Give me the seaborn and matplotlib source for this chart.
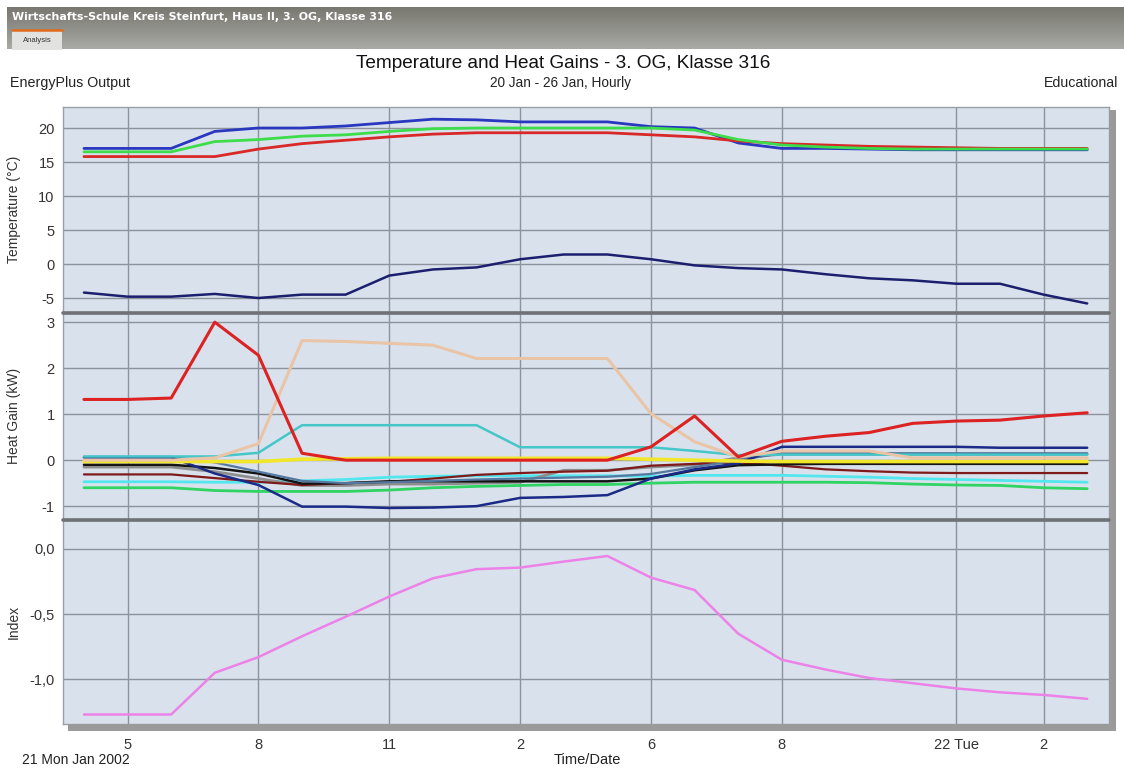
import numpy as np
import pandas as pd
import matplotlib
matplotlib.use("Agg")
import matplotlib.pyplot as plt
import seaborn as sns
from matplotlib.patches import Rectangle
from matplotlib.lines import Line2D

# ---------------- data ----------------
hours = list(range(24))  # hourly steps, 04:00 Mon .. 03:00 Tue
tick_pos = [1, 4, 7, 10, 13, 16, 20, 22]
tick_labels = ["5", "8", "11", "2", "6", "8", "22 Tue", "2"]

temp_zone_blue = [17.0, 17.0, 17.0, 19.5, 20.0, 20.0, 20.3, 20.8, 21.3, 21.2, 20.9, 20.9,
                  20.9, 20.2, 20.0, 17.8, 17.0, 17.0, 16.9, 16.8, 16.8, 16.8, 16.8, 16.8]
temp_zone_green = [16.5, 16.5, 16.5, 18.0, 18.3, 18.8, 19.0, 19.5, 19.9, 20.0, 20.0, 20.0,
                   20.0, 20.0, 19.7, 18.3, 17.5, 17.2, 17.0, 16.9, 16.9, 16.9, 16.9, 16.9]
temp_zone_red = [15.8, 15.8, 15.8, 15.8, 16.9, 17.7, 18.2, 18.7, 19.1, 19.3, 19.3, 19.3,
                 19.3, 19.0, 18.7, 18.1, 17.7, 17.5, 17.3, 17.2, 17.1, 17.0, 17.0, 17.0]
temp_outdoor = [-4.2, -4.8, -4.8, -4.4, -5.0, -4.5, -4.5, -1.7, -0.8, -0.5, 0.7, 1.4,
                1.4, 0.7, -0.2, -0.6, -0.8, -1.5, -2.1, -2.4, -2.9, -2.9, -4.5, -5.8]

gain_red = [1.32, 1.32, 1.35, 3.0, 2.28, 0.15, 0.0, 0.0, 0.0, 0.0, 0.0, 0.0,
            0.0, 0.29, 0.96, 0.07, 0.41, 0.52, 0.60, 0.80, 0.85, 0.87, 0.96, 1.03]
gain_tan = [0.0, 0.0, 0.0, 0.05, 0.36, 2.6, 2.58, 2.54, 2.5, 2.21, 2.21, 2.21,
            2.21, 1.01, 0.40, 0.07, 0.20, 0.20, 0.20, 0.05, 0.05, 0.05, 0.05, 0.05]
gain_teal = [0.08, 0.08, 0.08, 0.08, 0.16, 0.76, 0.76, 0.76, 0.76, 0.76, 0.28, 0.28,
             0.28, 0.28, 0.20, 0.11, 0.12, 0.12, 0.12, 0.12, 0.12, 0.12, 0.12, 0.12]
gain_yellow = [-0.03, -0.03, -0.03, -0.03, -0.03, 0.02, 0.03, 0.04, 0.04, 0.04, 0.04, 0.04,
               0.04, 0.02, 0.0, -0.02, -0.03, -0.03, -0.03, -0.03, -0.03, -0.03, -0.03, -0.03]
gain_steel = [0.07, 0.07, 0.07, -0.05, -0.25, -0.45, -0.50, -0.48, -0.45, -0.42, -0.40, -0.38,
              -0.36, -0.30, -0.15, 0.0, 0.15, 0.15, 0.15, 0.15, 0.15, 0.15, 0.15, 0.15]
gain_navy = [0.06, 0.06, 0.06, -0.29, -0.54, -1.01, -1.01, -1.04, -1.03, -1.0, -0.82, -0.80,
             -0.76, -0.40, -0.20, -0.07, 0.29, 0.29, 0.29, 0.29, 0.29, 0.27, 0.27, 0.27]
gain_black = [-0.10, -0.10, -0.10, -0.17, -0.29, -0.51, -0.50, -0.46, -0.46, -0.46, -0.46, -0.46,
              -0.46, -0.40, -0.22, -0.11, -0.09, -0.08, -0.08, -0.08, -0.08, -0.08, -0.08, -0.08]
gain_maroon = [-0.31, -0.31, -0.31, -0.39, -0.47, -0.54, -0.50, -0.47, -0.40, -0.32, -0.28, -0.25,
               -0.23, -0.12, -0.08, -0.05, -0.12, -0.20, -0.24, -0.27, -0.28, -0.28, -0.28, -0.28]
gain_gray = [-0.15, -0.15, -0.15, -0.25, -0.40, -0.55, -0.55, -0.52, -0.52, -0.50, -0.48, -0.22,
             -0.22, -0.15, -0.10, 0.05, 0.13, 0.13, 0.13, 0.13, 0.13, 0.13, 0.13, 0.13]
gain_aqua = [-0.47, -0.47, -0.47, -0.48, -0.48, -0.45, -0.42, -0.37, -0.35, -0.34, -0.34, -0.34,
             -0.34, -0.35, -0.33, -0.33, -0.33, -0.35, -0.37, -0.40, -0.42, -0.44, -0.46, -0.48]
gain_green = [-0.60, -0.60, -0.60, -0.66, -0.68, -0.68, -0.68, -0.65, -0.60, -0.57, -0.55, -0.53,
              -0.53, -0.50, -0.48, -0.48, -0.48, -0.48, -0.49, -0.52, -0.54, -0.55, -0.60, -0.62]

index_pink = [-1.27, -1.27, -1.27, -0.95, -0.83, -0.67, -0.52, -0.365, -0.225, -0.155, -0.143, -0.097,
              -0.054, -0.22, -0.315, -0.65, -0.85, -0.925, -0.99, -1.03, -1.07, -1.10, -1.12, -1.15]

# ---------------- styling ----------------
sns.set_theme(style="white")
plt.rcParams['font.family'] = ['Liberation Sans', 'DejaVu Sans']

W, H = 1124, 769
fig = plt.figure(figsize=(W / 100, H / 100), dpi=100)
fig.patch.set_facecolor("white")

def fx(px):
    return px / W

def fy(py):
    return 1 - py / H

BG = "#d9e2ec"
GRID = "#8c939c"
left_px, right_px = 63, 1109
panels_px = [(107, 312.5), (312.5, 519.5), (519.5, 724)]
axes = []
for (t, b) in panels_px:
    ax = fig.add_axes([fx(left_px), fy(b), fx(right_px - left_px), (b - t) / H])
    ax.set_facecolor(BG)
    axes.append(ax)

# shadow
fig.patches.append(Rectangle((fx(68), fy(731)), fx(1116 - 68), 7 / H, transform=fig.transFigure,
                             facecolor="#9a9a9a", edgecolor="none", zorder=0))
fig.patches.append(Rectangle((fx(1109), fy(731)), fx(7), (731 - 110) / H, transform=fig.transFigure,
                             facecolor="#9a9a9a", edgecolor="none", zorder=0))

xlim = (-0.48, 23.5)

def style_axis(ax, ylim, yticks, ylabels, ylabel):
    ax.set_xlim(*xlim)
    ax.set_ylim(*ylim)
    ax.set_yticks(yticks)
    ax.set_yticklabels(ylabels, fontsize=10.5, color="#333333")
    ax.set_xticks(tick_pos)
    ax.grid(True, color=GRID, lw=1.0)
    ax.set_axisbelow(True)
    for s in ax.spines.values():
        s.set_color("#9a9fa6")
        s.set_linewidth(1)
    ax.tick_params(axis="y", length=0, pad=6)
    ax.set_ylabel(ylabel, fontsize=10, color="#333333", labelpad=8)
    ax.set_xlabel("")

# ---------- temperature panel ----------
ax0 = axes[0]
temp_series = [
    (temp_zone_blue, "#2a38c0", 2.0),
    (temp_zone_red, "#d82828", 2.0),
    (temp_zone_green, "#3ddc4a", 2.0),
    (temp_outdoor, "#1c1f6e", 1.8),
]
for vals, col, lw in temp_series:
    sns.lineplot(x=hours, y=vals, ax=ax0, color=col, lw=lw, sort=False)
style_axis(ax0, (-7.13, 23.09), [20, 15, 10, 5, 0, -5], ["20", "15", "10", "5", "0", "-5"],
           "Temperature (°C)")
ax0.tick_params(axis="x", length=0, labelbottom=False)

# ---------- heat gain panel ----------
ax1 = axes[1]
gain_series = [
    (gain_green, "#2fd463", 2.0),
    (gain_aqua, "#52e6ee", 2.0),
    (gain_gray, "#8e8e8e", 2.0),
    (gain_maroon, "#7e1a1a", 1.6),
    (gain_black, "#141414", 1.8),
    (gain_steel, "#5478a0", 1.6),
    (gain_navy, "#1a2a86", 1.8),
    (gain_yellow, "#f2e62a", 2.6),
    (gain_teal, "#45c6c8", 1.8),
    (gain_tan, "#e9c4a6", 2.2),
    (gain_red, "#dc2222", 2.2),
]
for vals, col, lw in gain_series:
    sns.lineplot(x=hours, y=vals, ax=ax1, color=col, lw=lw, sort=False)
style_axis(ax1, (-1.29, 3.21), [3, 2, 1, 0, -1], ["3", "2", "1", "0", "-1"], "Heat Gain (kW)")
ax1.tick_params(axis="x", length=0, labelbottom=False)

# ---------- index panel ----------
ax2 = axes[2]
sns.lineplot(x=hours, y=index_pink, ax=ax2, color="#ec82e8", lw=1.8, sort=False)
style_axis(ax2, (-1.343, 0.226), [0.0, -0.5, -1.0], ["0,0", "-0,5", "-1,0"], "Index")
ax2.set_xticklabels(tick_labels, fontsize=10.5, color="#333333")
ax2.tick_params(axis="x", length=9, color=GRID, width=1, pad=1, direction="out")

# align y labels
for ax in axes:
    ax.yaxis.set_label_coords(-0.040, 0.5)

# separators between panels
for yy in (312.5, 519.5):
    fig.lines.append(Line2D([fx(left_px), fx(right_px)], [fy(yy), fy(yy)], transform=fig.transFigure,
                            color="#6e7276", lw=2.6, zorder=5))

# ---------------- header bar ----------------
hax = fig.add_axes([fx(7), fy(49.5), fx(W - 7), 42.5 / H])
grad = np.linspace(0, 1, 64).reshape(-1, 1)
cmap = matplotlib.colors.LinearSegmentedColormap.from_list("hdr", ["#77776f", "#a9a9a5"])
hax.imshow(grad, aspect="auto", cmap=cmap, extent=(0, 1, 0, 1), origin="upper")
hax.set_axis_off()
fig.text(fx(12), fy(17), "Wirtschafts-Schule Kreis Steinfurt, Haus II, 3. OG, Klasse 316",
         color="white", fontsize=7.9, fontweight="bold", family=["DejaVu Sans"], va="center", ha="left")
# tab
fig.patches.append(Rectangle((fx(12), fy(49.5)), fx(50), 19.5 / H, transform=fig.transFigure,
                             facecolor="#e2e2e0", edgecolor="none", zorder=3))
fig.lines.append(Line2D([fx(12), fx(62)], [fy(30), fy(30)], transform=fig.transFigure,
                        color="#e26a1a", lw=1.8, zorder=4))
fig.text(fx(37), fy(40.5), "Analysis", fontsize=5.5, color="#333333", ha="center", va="center", zorder=5)

# ---------------- titles ----------------
fig.text(fx(563), fy(64), "Temperature and Heat Gains - 3. OG, Klasse 316", fontsize=13.7,
         color="#111111", ha="center", va="center")
fig.text(fx(560), fy(83), "20 Jan - 26 Jan, Hourly", fontsize=9.8, color="#222222", ha="center", va="center")
fig.text(fx(10), fy(83), "EnergyPlus Output", fontsize=10.3, color="#222222", ha="left", va="center")
fig.text(fx(1118), fy(83), "Educational", fontsize=10.2, color="#222222", ha="right", va="center")
fig.text(fx(22), fy(760), "21 Mon Jan 2002", fontsize=10, color="#222222", ha="left", va="center")
fig.text(fx(587), fy(760), "Time/Date", fontsize=10.5, color="#222222", ha="center", va="center")

fig.savefig("out.png", dpi=100, facecolor="white")
